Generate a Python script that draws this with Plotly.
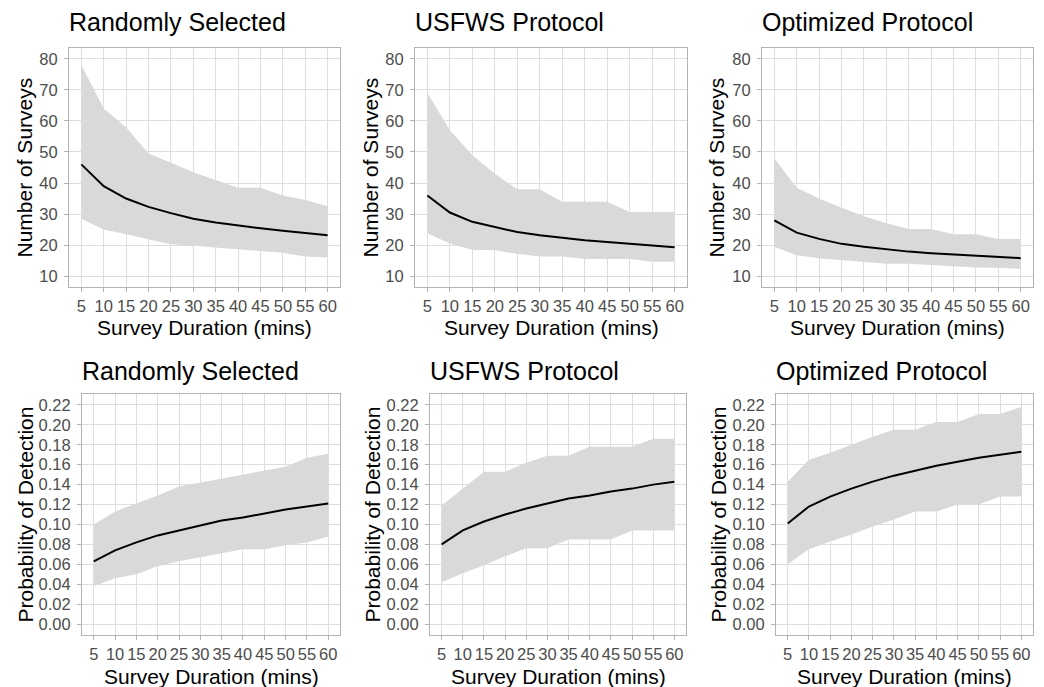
import plotly.graph_objects as go

duration = [5, 10, 15, 20, 25, 30, 35, 40, 45, 50, 55, 60]
x_ticks = [5, 10, 15, 20, 25, 30, 35, 40, 45, 50, 55, 60]

titles = ["Randomly Selected", "USFWS Protocol", "Optimized Protocol",
          "Randomly Selected", "USFWS Protocol", "Optimized Protocol"]

# Number of surveys
rand_n_mean = [46, 39, 35, 32.3, 30.3, 28.5, 27.3, 26.3, 25.4, 24.6, 24.0, 23.2]
rand_n_hi = [78, 64, 58, 49.5, 46.5, 43.5, 41, 38.5, 38.5, 36, 34.5, 32.5]
rand_n_lo = [28.5, 25, 23.5, 22, 20.3, 19.8, 19.2, 18.5, 18, 17.5, 16.3, 16]

usfws_n_mean = [36, 30.5, 27.5, 25.8, 24.2, 23.2, 22.3, 21.6, 21.0, 20.4, 19.9, 19.3]
usfws_n_hi = [69, 57, 49, 43, 38, 38, 34, 34, 34, 30.7, 30.7, 30.7]
usfws_n_lo = [23.8, 20.5, 18.5, 18.3, 17.2, 16.3, 16.3, 15.5, 15.5, 15.5, 14.6, 14.6]

opt_n_mean = [28, 24, 22, 20.4, 19.5, 18.7, 17.9, 17.4, 17.0, 16.5, 16.2, 15.8]
opt_n_hi = [48, 38.5, 35, 32, 29.3, 27, 25.2, 25.2, 23.5, 23.5, 22, 22]
opt_n_lo = [19.5, 16.7, 15.8, 15.2, 14.6, 14.0, 14.0, 13.5, 13.2, 12.8, 12.7, 12.3]

# Probability of detection
rand_p_mean = [0.063, 0.074, 0.082, 0.089, 0.094, 0.099, 0.104, 0.107, 0.111, 0.115, 0.118, 0.121]
rand_p_hi = [0.100, 0.113, 0.121, 0.129, 0.138, 0.142, 0.146, 0.150, 0.154, 0.158, 0.167, 0.171]
rand_p_lo = [0.038, 0.046, 0.050, 0.058, 0.063, 0.067, 0.071, 0.075, 0.075, 0.079, 0.082, 0.088]

usfws_p_mean = [0.080, 0.094, 0.103, 0.110, 0.116, 0.121, 0.126, 0.129, 0.133, 0.136, 0.140, 0.143]
usfws_p_hi = [0.119, 0.136, 0.153, 0.153, 0.162, 0.169, 0.169, 0.178, 0.178, 0.178, 0.186, 0.186]
usfws_p_lo = [0.042, 0.051, 0.059, 0.068, 0.076, 0.076, 0.085, 0.085, 0.085, 0.094, 0.094, 0.094]

opt_p_mean = [0.101, 0.118, 0.128, 0.136, 0.143, 0.149, 0.154, 0.159, 0.163, 0.167, 0.170, 0.173]
opt_p_hi = [0.143, 0.165, 0.172, 0.180, 0.188, 0.195, 0.195, 0.203, 0.203, 0.211, 0.211, 0.218]
opt_p_lo = [0.060, 0.075, 0.083, 0.090, 0.098, 0.105, 0.113, 0.113, 0.120, 0.120, 0.128, 0.128]

n_ticks = [10, 20, 30, 40, 50, 60, 70, 80]
p_ticks = [0.00, 0.02, 0.04, 0.06, 0.08, 0.10, 0.12, 0.14, 0.16, 0.18, 0.20, 0.22]

panels = [
    (rand_n_mean, rand_n_lo, rand_n_hi, "n"),
    (usfws_n_mean, usfws_n_lo, usfws_n_hi, "n"),
    (opt_n_mean, opt_n_lo, opt_n_hi, "n"),
    (rand_p_mean, rand_p_lo, rand_p_hi, "p"),
    (usfws_p_mean, usfws_p_lo, usfws_p_hi, "p"),
    (opt_p_mean, opt_p_lo, opt_p_hi, "p"),
]

W, H = 1044, 687
# pixel boxes (left, right, top, bottom)
boxes = [
    (69, 340, 48, 287), (415, 687, 48, 287), (762, 1033, 48, 287),
    (82, 340, 394, 635), (430, 686, 394, 635), (776, 1033, 394, 635),
]
ytitle_x = [24, 370, 716, 25, 372, 718]
title_y = [22, 22, 22, 371, 371, 371]
xtitle_y = [327, 327, 327, 676, 676, 676]

FONT = "Liberation Sans, Arial, sans-serif"
fig = go.Figure()
annotations = []
layout = {}
for i, ((mean, lo, hi, kind), (l, r, t, b)) in enumerate(zip(panels, boxes)):
    k = "" if i == 0 else str(i + 1)
    xa, ya = "x" + k, "y" + k
    fig.add_trace(go.Scatter(x=duration, y=lo, xaxis=xa, yaxis=ya, mode="lines",
                             line=dict(width=0), hoverinfo="skip", showlegend=False))
    fig.add_trace(go.Scatter(x=duration, y=hi, xaxis=xa, yaxis=ya, mode="lines",
                             line=dict(width=0), fill="tonexty",
                             fillcolor="rgb(217,217,217)", showlegend=False))
    fig.add_trace(go.Scatter(x=duration, y=mean, xaxis=xa, yaxis=ya, mode="lines",
                             line=dict(color="black", width=2), showlegend=False))
    common = dict(showgrid=True, gridcolor="#dedede", gridwidth=1,
                  showline=True, linecolor="#b3b3b3", linewidth=1, mirror=True,
                  ticks="outside", ticklen=4, tickcolor="#b3b3b3", tickwidth=1,
                  zeroline=False, tickfont=dict(family=FONT, size=16.5, color="#4d4d4d"))
    layout["xaxis" + k] = dict(common, domain=[l / W, r / W], anchor=ya,
                               range=[2.25, 62.75], tickvals=x_ticks,
                               ticktext=[str(v) for v in x_ticks], tickangle=0)
    if kind == "n":
        layout["yaxis" + k] = dict(common, domain=[1 - b / H, 1 - t / H], anchor=xa,
                                   range=[6.5, 83.5], tickvals=n_ticks,
                                   ticklabelstandoff=3)
        ytitle = "Number of Surveys"
    else:
        layout["yaxis" + k] = dict(common, domain=[1 - b / H, 1 - t / H], anchor=xa,
                                   range=[-0.011, 0.231], tickvals=p_ticks,
                                   ticktext=["%.2f" % v for v in p_ticks],
                                   ticklabelstandoff=3)
        ytitle = "Probability of Detection"
    annotations.append(dict(text=titles[i], x=(l - 2) / W, y=1 - title_y[i] / H,
                            xref="paper", yref="paper", xanchor="left", yanchor="middle",
                            showarrow=False, font=dict(family=FONT, size=25, color="black")))
    annotations.append(dict(text="Survey Duration (mins)", x=(l + r) / 2 / W, y=1 - xtitle_y[i] / H,
                            xref="paper", yref="paper", xanchor="center", yanchor="middle",
                            showarrow=False, font=dict(family=FONT, size=21, color="black")))
    annotations.append(dict(text=ytitle, x=ytitle_x[i] / W, y=1 - (t + b) / 2 / H,
                            xref="paper", yref="paper", xanchor="center", yanchor="middle",
                            textangle=-90, showarrow=False,
                            font=dict(family=FONT, size=21, color="black")))

fig.update_layout(**layout)
fig.update_layout(width=W, height=H, margin=dict(l=0, r=0, t=0, b=0),
                  paper_bgcolor="white", plot_bgcolor="white",
                  annotations=annotations, showlegend=False)
fig.write_html("out.html", config={"displayModeBar": False},
               post_script="document.body.style.margin='0px';")
